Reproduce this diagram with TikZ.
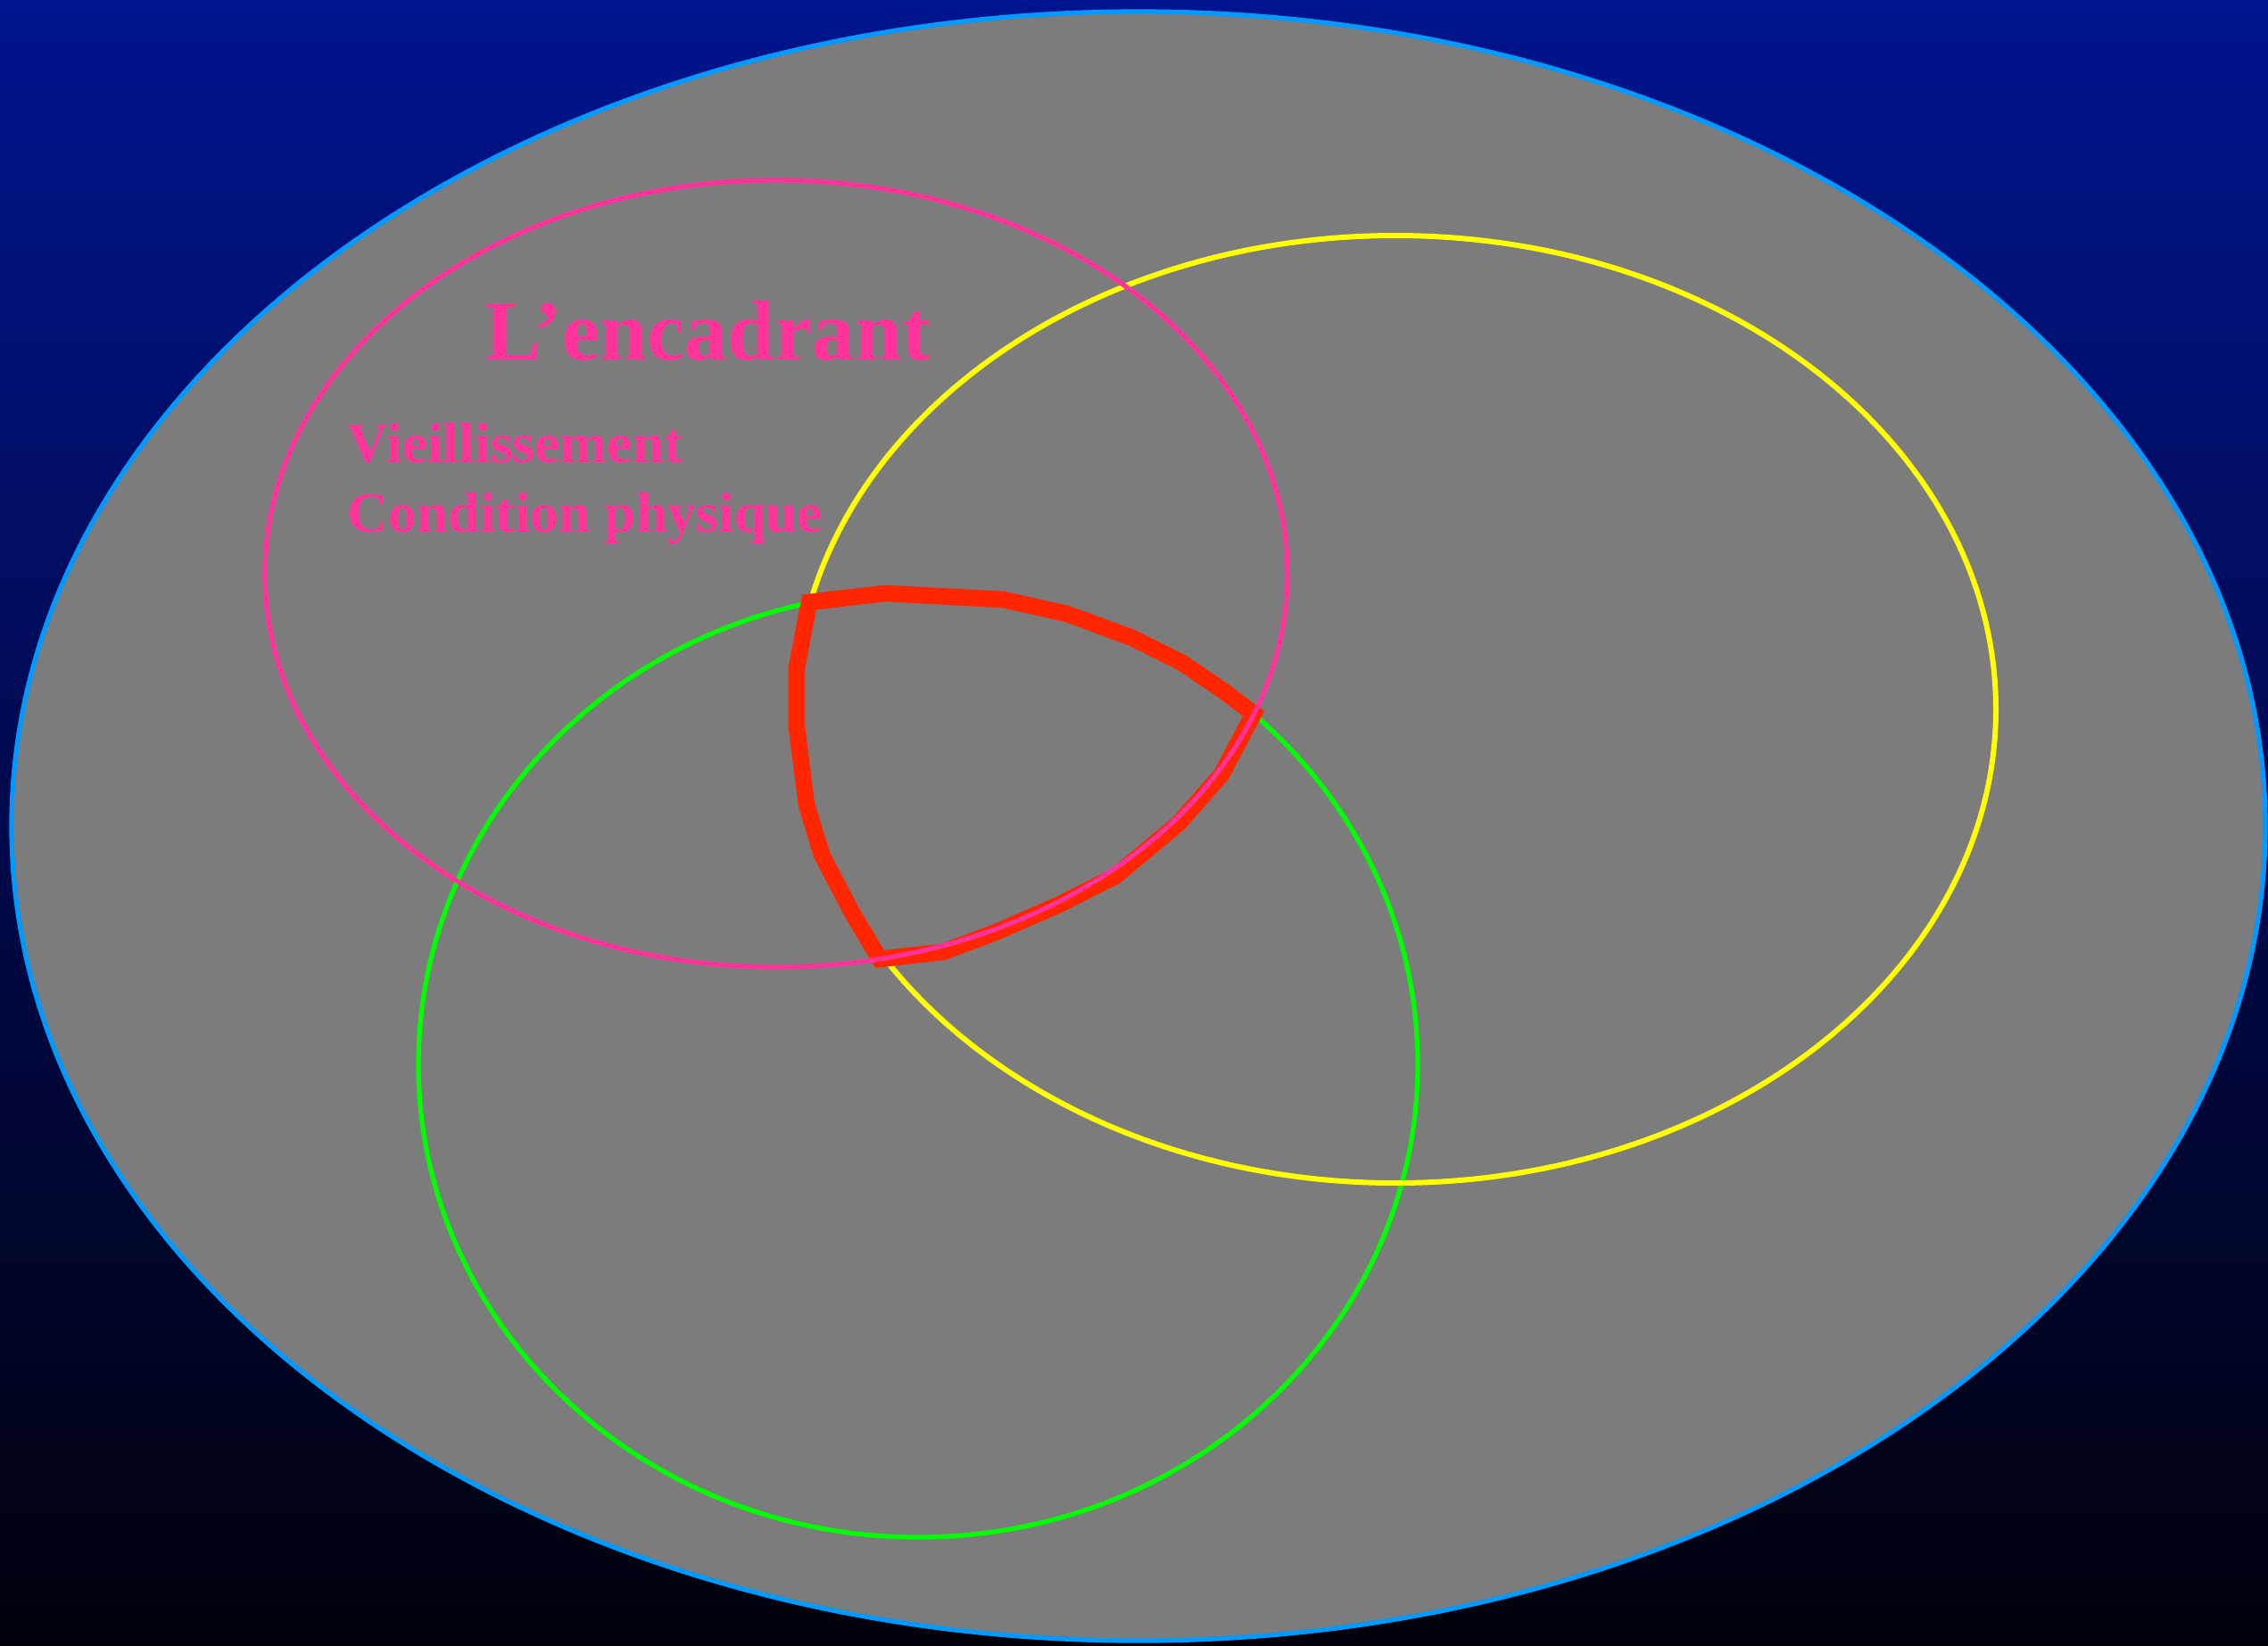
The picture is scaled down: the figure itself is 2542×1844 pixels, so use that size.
\documentclass[tikz,border=0pt]{standalone}
\usepackage{fontspec}
\setmainfont{Liberation Serif}
\definecolor{bgtop}{RGB}{0,20,142}
\definecolor{bgbot}{RGB}{0,0,10}
\definecolor{panel}{RGB}{124,124,124}
\definecolor{rim}{RGB}{0,153,255}
\definecolor{pinkc}{RGB}{255,51,153}
\definecolor{yellowc}{RGB}{255,255,0}
\definecolor{greenc}{RGB}{0,255,0}
\definecolor{redc}{RGB}{255,38,0}
\tikzset{
  ring/.style={line width=1.5pt},
  lbl/.style={text=pinkc, font=\bfseries, inner sep=0pt, anchor=base west},
}
\begin{document}
\begin{tikzpicture}[x=0.01cm,y=-0.01cm]
\shade[top color=bgtop, bottom color=bgbot] (0,0) rectangle (2542,1844);
\useasboundingbox (0,0) rectangle (2542,1844);
% outer field
\draw[fill=panel, draw=rim, ring] (1276,926) ellipse [x radius=1263, y radius=913];
% green set
\draw[greenc, ring] (1029,1193) ellipse [x radius=560, y radius=530];
% yellow set
\draw[yellowc, line width=1.7pt] (1564,795) ellipse [x radius=673, y radius=531];
% red intersection
\draw[redc, line width=5.3pt, line join=miter]
  (907,675) -- (992,665) -- (1124,672) -- (1196,688) -- (1269,715) -- (1325,743)
  -- (1372,775) -- (1405,800) -- (1369,868) -- (1321,923) -- (1250,982)
  -- (1189,1013) -- (1116,1045) -- (1057,1067) -- (986,1075) -- (955,1023)
  -- (921,958) -- (904,902) -- (893,815) -- (893,748) -- cycle;
% pink set
\draw[pinkc, ring] (870,643) ellipse [x radius=573, y radius=441];
% labels
\node[lbl, font=\bfseries\fontsize{27.1}{30}\selectfont] (title) at (543,403) {L’encadrant};
\node[lbl, font=\bfseries\fontsize{18.1}{20}\selectfont] (l1) at (389,518) {Vieillissement};
\node[lbl, font=\bfseries\fontsize{18.1}{20}\selectfont] (l2) at (389,596) {Condition physique};
\end{tikzpicture}
\end{document}
